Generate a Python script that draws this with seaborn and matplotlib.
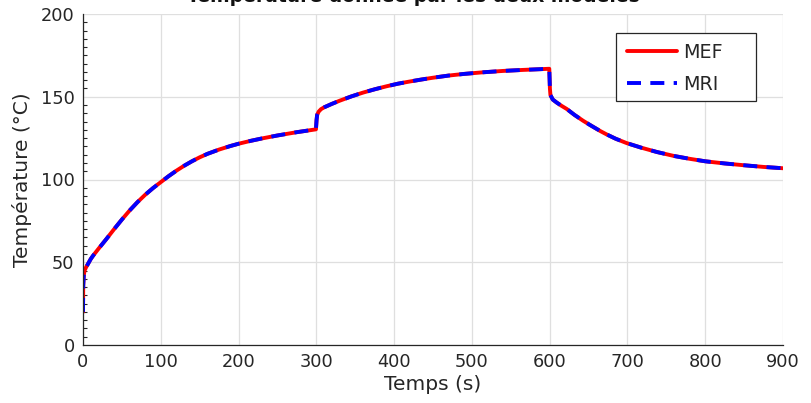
import numpy as np
import pandas as pd
import matplotlib
matplotlib.use("Agg")
import matplotlib.pyplot as plt
import seaborn as sns
from matplotlib.ticker import MultipleLocator
from matplotlib.patches import Rectangle

# ---- data ----
t_mef = [0, 0.3, 1, 2, 4, 7, 10, 13, 20, 30, 40, 50, 60, 70, 80, 90, 100, 110, 120, 130, 140, 150,
         160, 175, 190, 200, 215, 230, 250, 275, 299.5,
         300.3, 301, 303, 306, 310, 320, 330, 345, 360, 375, 390, 405, 420, 435, 450, 470, 490, 515,
         540, 565, 585, 599.5,
         600.3, 601, 604, 609, 615, 622, 632, 643, 652, 665, 673, 685, 699, 718, 738, 760, 780, 800,
         825, 850, 875, 900]
T_mef = [20, 36, 42, 45, 47, 49.5, 52, 54, 58.2, 64, 70, 75.8, 81.3, 86.3, 90.8, 94.8, 98.4, 102, 105.3,
         108.3, 111, 113.4, 115.5, 118.1, 120.3, 121.6, 123.3, 124.8, 126.6, 128.6, 130.3,
         136, 139, 141, 142.5, 143.6, 145.7, 147.6, 150.2, 152.5, 154.5, 156.3, 157.9, 159.2, 160.4,
         161.5, 162.8, 163.8, 164.8, 165.6, 166.2, 166.6, 166.9,
         155, 151, 148.3, 146.5, 144.6, 142.6, 139, 135.5, 132.9, 129.3, 127.3, 124.6, 122, 119.2,
         116.6, 114.2, 112.5, 111, 109.7, 108.6, 107.6, 106.8]
t_mri = list(t_mef)
T_mri = list(T_mef)

x_ticks = [0, 100, 200, 300, 400, 500, 600, 700, 800, 900]
y_ticks = [0, 50, 100, 150, 200]

title = "Température donnée par les deux modèles"
xlabel = "Temps (s)"
ylabel = "Température (°C)"

sns.set_theme(style="whitegrid")
plt.rcParams['font.family'] = ['DejaVu Sans']

W, H = 811, 403
fig = plt.figure(figsize=(W / 100, H / 100), dpi=100)
ax = fig.add_axes([83 / W, 1 - 345 / H, 700 / W, 331 / H])

df_mef = pd.DataFrame({"t": t_mef, "T": T_mef})
df_mri = pd.DataFrame({"t": t_mri, "T": T_mri})

sns.lineplot(data=df_mef, x="t", y="T", ax=ax, color="#ff0000", lw=2.8, label="MEF",
             sort=False, estimator=None)
sns.lineplot(data=df_mri, x="t", y="T", ax=ax, color="#0000ff", lw=2.8, label="MRI",
             sort=False, estimator=None, linestyle=(0, (3.6, 2.4)))

ax.set_xlim(0, 900)
ax.set_ylim(0, 200)
ax.set_xticks(x_ticks)
ax.set_yticks(y_ticks)
ax.yaxis.set_minor_locator(MultipleLocator(5))
ax.grid(True, which="major", color="#dfdfdf", lw=0.9)
ax.grid(False, which="minor")
ax.set_facecolor("white")
for s in ["top", "right"]:
    ax.spines[s].set_visible(False)
for s in ["left", "bottom"]:
    ax.spines[s].set_color("#262626")
    ax.spines[s].set_linewidth(0.9)
ax.tick_params(axis="both", which="major", direction="in", length=4.5, width=0.9,
               color="#262626", labelsize=12.8, labelcolor="#262626", pad=6)
ax.tick_params(axis="y", which="minor", direction="in", length=2.6, width=0.8,
               color="#262626", left=True)
ax.tick_params(axis="x", which="minor", bottom=False)

ax.set_xlabel(xlabel, fontsize=14.5, color="#262626", labelpad=3)
ax.set_ylabel(ylabel, fontsize=14.5, color="#262626", labelpad=6)

fig.text(413 / W, 1 - 2 / H, title, ha="center", va="baseline", fontsize=13.5,
         fontweight="bold", color="#111111")

# legend box (MATLAB style, wider on the right)
box = Rectangle((616 / W, 1 - 101 / H), 140 / W, 68 / H, transform=fig.transFigure,
                facecolor="white", edgecolor="#262626", lw=0.9, zorder=4, clip_on=False)
ax.add_patch(box)
leg = ax.legend(loc="upper left", bbox_to_anchor=(627 / W, 1 - 42.5 / H),
                bbox_transform=fig.transFigure, borderaxespad=0, borderpad=0,
                fontsize=13.8, frameon=False, handlelength=2.6, labelspacing=0.68,
                handletextpad=0.35)
leg.set_zorder(6)

fig.savefig("out.png", dpi=100, facecolor="white")
